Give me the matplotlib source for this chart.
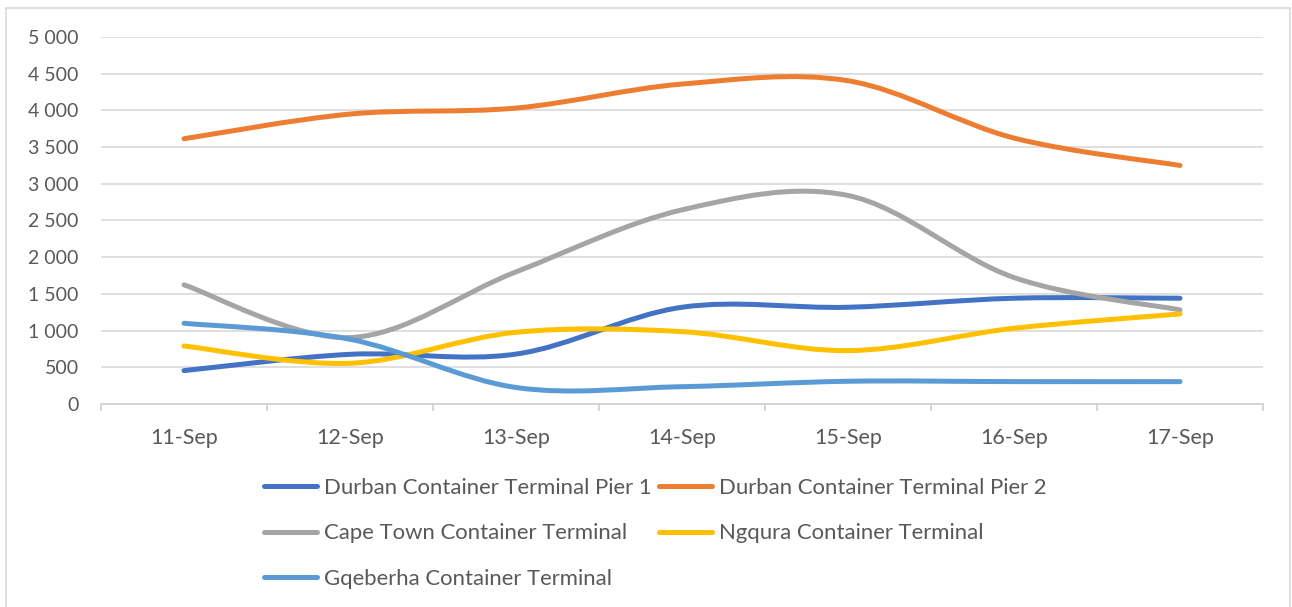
import numpy as np
import matplotlib.pyplot as plt
from matplotlib.path import Path
from matplotlib.patches import PathPatch, Rectangle
from matplotlib.lines import Line2D
from matplotlib.ticker import FuncFormatter

dates = ["11-Sep", "12-Sep", "13-Sep", "14-Sep", "15-Sep", "16-Sep", "17-Sep"]

durban_pier1 = [455, 677, 680, 1318, 1318, 1441, 1441]
durban_pier2 = [3614, 3950, 4032, 4359, 4404, 3623, 3250]
cape_town = [1623, 905, 1800, 2645, 2841, 1723, 1282]
ngqura = [790, 555, 977, 986, 727, 1032, 1227]
gqeberha = [1100, 882, 225, 236, 310, 305, 305]

series = [
    ("Durban Container Terminal Pier 1", durban_pier1, "#4472c4"),
    ("Durban Container Terminal Pier 2", durban_pier2, "#ed7d31"),
    ("Cape Town Container Terminal", cape_town, "#a5a5a5"),
    ("Ngqura Container Terminal", ngqura, "#ffc000"),
    ("Gqeberha Container Terminal", gqeberha, "#5b9bd5"),
]

plt.rcParams["font.family"] = ["Lato", "DejaVu Sans"]


def smooth_path(xs, ys):
    # bezier like excel's "smoothed line"
    pts = np.column_stack([xs, ys]).astype(float)
    n = len(pts)
    verts = [pts[0]]
    codes = [Path.MOVETO]
    for i in range(n - 1):
        p0 = pts[max(i - 1, 0)]
        p1 = pts[i]
        p2 = pts[i + 1]
        p3 = pts[min(i + 2, n - 1)]
        c1 = p1 + (p2 - p0) / 6
        c2 = p2 - (p3 - p1) / 6
        verts += [c1, c2, p2]
        codes += [Path.CURVE4] * 3
    return Path(verts, codes)


fig = plt.figure(figsize=(12.92, 6.07), dpi=100)
ax = fig.add_axes([101 / 1292, 1 - 404 / 607, 1162 / 1292, 367 / 607])

x = np.arange(len(dates))
handles = []
for name, vals, color in series:
    patch = PathPatch(smooth_path(x, vals), facecolor="none", edgecolor=color,
                      lw=3.6, capstyle="round", joinstyle="round", zorder=3)
    ax.add_patch(patch)
    handles.append(Line2D([], [], color=color, lw=3.6, solid_capstyle="round"))

ax.set_xlim(-0.5, len(dates) - 0.5)
ax.set_ylim(0, 5000)
ax.set_yticks(np.arange(0, 5001, 500))
ax.yaxis.set_major_formatter(FuncFormatter(lambda v, p: f"{int(v):,}".replace(",", " ")))
ax.set_xticks(x)
ax.set_xticklabels(dates)
ax.set_xticks(np.arange(-0.5, len(dates)), minor=True)

ax.grid(axis="y", color="#d9d9d9", lw=1.2, zorder=0)
for s in ["top", "right", "left"]:
    ax.spines[s].set_visible(False)
ax.spines["bottom"].set_color("#d0d0d0")
ax.spines["bottom"].set_linewidth(1.2)

ax.tick_params(axis="y", length=0, pad=16, labelsize=14, labelcolor="#595959")
ax.tick_params(axis="x", which="major", length=0, pad=17, labelsize=15.5, labelcolor="#595959")
ax.tick_params(axis="x", which="minor", length=5, width=1.2, color="#d0d0d0")

# legend fills by column, so reorder to get row-wise order like excel
order = [0, 2, 4, 1, 3]
fig.legend([handles[i] for i in order], [series[i][0] for i in order],
           ncol=2, loc="upper left",
           bbox_to_anchor=(264 / 1292, 1 - 478 / 607), frameon=False,
           fontsize=15.9, labelcolor="#595959", handlelength=2.4,
           handletextpad=0.3, columnspacing=0.35, labelspacing=1.15,
           borderpad=0, borderaxespad=0)

fig.patches.append(Rectangle((6 / 1292, -0.01), 1284 / 1292, 1 - 8 / 607 + 0.01,
                             transform=fig.transFigure, fill=False,
                             edgecolor="#d9d9d9", lw=1.2))

fig.savefig("out.png", dpi=100)
